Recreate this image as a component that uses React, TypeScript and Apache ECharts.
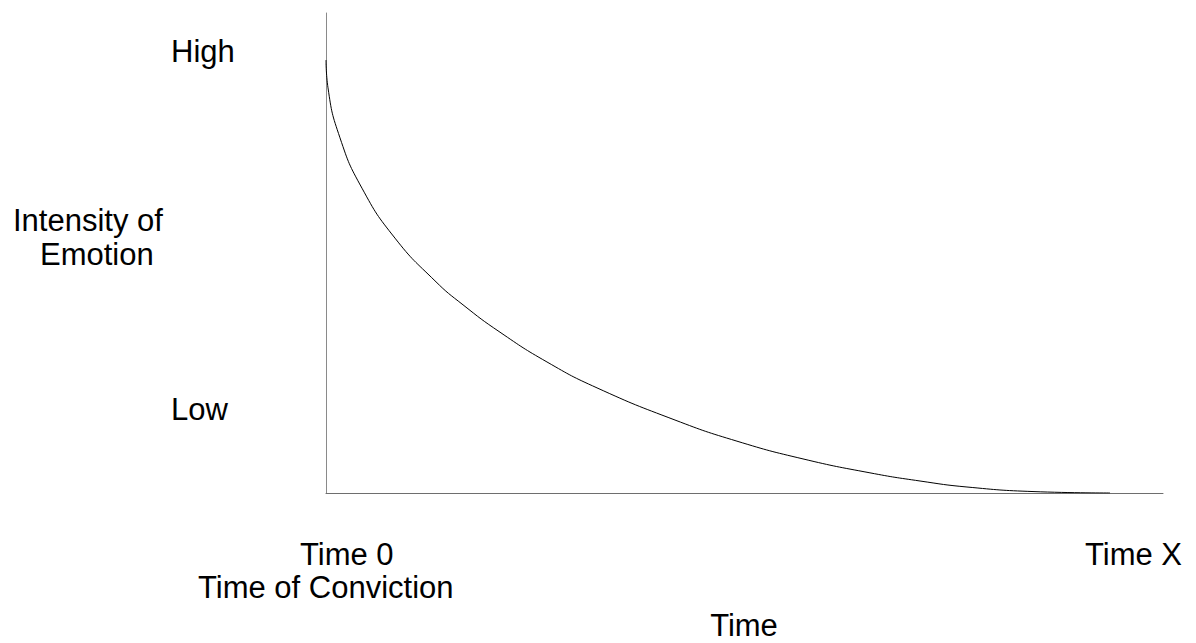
import React, { useEffect, useRef } from "react";
import * as echarts from "echarts";

// Time (percent of the axis span) and emotional intensity (percent of axis height)
const timeValues = [0, 0.24, 1.67, 4.3, 8.24, 13.02, 16.37, 20.79, 26.4, 32.38, 41.7, 49.1, 56.99, 64.99, 70.97, 76.58, 84.47, 93.67];
const intensityValues = [90.2, 84.4, 74.0, 63.5, 53.1, 44.2, 39.2, 33.5, 27.3, 21.9, 15.2, 10.8, 7.1, 4.2, 2.5, 1.25, 0.3, 0];

const yLabels = ["High", "Low"];
const yTitle = ["Intensity of", "Emotion"];
const xLabels = ["Time 0", "Time of Conviction", "Time X"];
const xTitle = "Time";

const FONT = "31px 'Liberation Sans', Arial, sans-serif";

export default function App() {
  const ref = useRef<HTMLDivElement>(null);
  useEffect(() => {
    if (!ref.current) return;
    const chart = echarts.init(ref.current, null, { renderer: "svg" });
    const txt = (text: string, x: number, y: number, align = "left") => ({
      type: "text",
      x,
      y,
      style: { text, font: FONT, fill: "#000", align, verticalAlign: "middle", lineHeight: 26 },
    });
    chart.setOption({
      animation: false,
      backgroundColor: "#fff",
      grid: { left: 326, top: 13, right: 33, bottom: 150 },
      xAxis: {
        type: "value",
        min: 0,
        max: 100,
        axisLine: { show: true, onZero: false, lineStyle: { color: "#6e6e6e", width: 1 } },
        axisTick: { show: false },
        axisLabel: { show: false },
        splitLine: { show: false },
      },
      yAxis: {
        type: "value",
        min: 0,
        max: 100,
        axisLine: { show: true, onZero: false, lineStyle: { color: "#8a8a8a", width: 1 } },
        axisTick: { show: false },
        axisLabel: { show: false },
        splitLine: { show: false },
      },
      series: [
        {
          type: "line",
          data: timeValues.map((t, i) => [t, intensityValues[i]]),
          smooth: 0.5,
          showSymbol: false,
          lineStyle: { color: "#000", width: 1 },
        },
      ],
      graphic: [
        txt(yLabels[0], 171, 51),
        txt(yTitle[0], 13, 220),
        txt(yTitle[1], 40, 254),
        txt(yLabels[1], 171, 409),
        txt(xLabels[0], 300, 554),
        txt(xLabels[1], 198, 587),
        txt(xLabels[2], 1085, 554),
        txt(xTitle, 744, 625, "center"),
      ],
    });
    return () => chart.dispose();
  }, []);
  return (
    <div
      ref={ref}
      style={{ position: "fixed", left: 0, top: 0, width: 1196, height: 643, background: "#fff" }}
    />
  );
}
